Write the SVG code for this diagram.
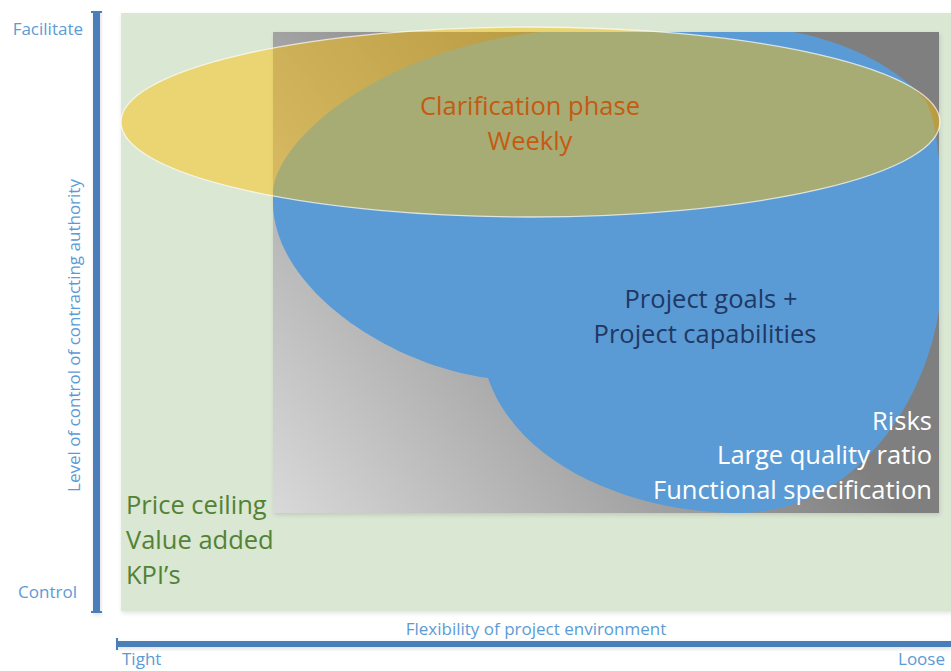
<svg xmlns="http://www.w3.org/2000/svg" width="951" height="671" viewBox="0 0 951 671">
  <defs>
    <style>
      .ax { font-family: "Open Sans", "Noto Sans", sans-serif; font-size: 17px; fill: #5b9bd5; }
      .big { font-family: "Open Sans", "Noto Sans", sans-serif; font-size: 25.5px; }
      .orange { fill: #c55a11; }
      .navy { fill: #1f3864; }
      .white { fill: #ffffff; }
      .green { fill: #548235; }
      .bar { fill: #4a7ebb; }
    </style>
    <linearGradient id="grayGrad" gradientUnits="userSpaceOnUse" x1="273" y1="513" x2="660" y2="205">
      <stop offset="0" stop-color="#d9d9d9"/>
      <stop offset="1" stop-color="#7f7f7f"/>
    </linearGradient>
    <clipPath id="rectClip">
      <rect x="273" y="32" width="666" height="481"/>
    </clipPath>
    <filter id="shadow" x="-5%" y="-5%" width="110%" height="110%">
      <feDropShadow dx="1" dy="2" stdDeviation="2" flood-color="#000" flood-opacity="0.12"/>
    </filter>
  </defs>

  <rect x="0" y="0" width="951" height="671" fill="#ffffff"/>

  <g id="background">
    <rect x="121" y="13" width="840" height="598" fill="#d9e7d3" filter="url(#shadow)"/>
  </g>

  <g id="gray-area">
    <rect x="273" y="32" width="666" height="481" fill="url(#grayGrad)" filter="url(#shadow)"/>
  </g>

  <g id="blue-shape" clip-path="url(#rectClip)">
    <path d="M 540,32 L 793,32 C 850,42 900,70 925,100 C 942,125 944,220 941,290 C 935,390 860,513 740,513 C 640,513 520,470 488,378 C 390,365 276,290 273,205 L 273,195 C 273,140 380,50 540,32 Z" fill="#5b9bd5"/>
  </g>

  <g id="clarification-ellipse">
    <ellipse cx="530.5" cy="122" rx="409.5" ry="95" fill="#ffc000" fill-opacity="0.46" stroke="#ffffff" stroke-opacity="0.7" stroke-width="1.3"/>
    <text class="big orange" x="530" y="115" text-anchor="middle">Clarification phase</text>
    <text class="big orange" x="530" y="150" text-anchor="middle">Weekly</text>
  </g>

  <g id="project-goals">
    <text class="big navy" x="711" y="308" text-anchor="middle">Project goals +</text>
    <text class="big navy" x="705" y="343" text-anchor="middle">Project capabilities</text>
  </g>

  <g id="risks">
    <text class="big white" x="932" y="430" text-anchor="end">Risks</text>
    <text class="big white" x="932" y="464" text-anchor="end">Large quality ratio</text>
    <text class="big white" x="932" y="499" text-anchor="end">Functional specification</text>
  </g>

  <g id="price-ceiling">
    <text class="big green" x="126" y="514">Price ceiling</text>
    <text class="big green" x="126" y="549">Value added</text>
    <text class="big green" x="126" y="584">KPI’s</text>
  </g>

  <g id="connectors">
    <g id="vertical-axis" filter="url(#shadow)">
      <rect class="bar" x="93" y="11" width="7" height="602"/>
      <rect class="bar" x="91" y="11" width="11" height="2"/>
      <rect class="bar" x="91" y="611" width="11" height="2"/>
    </g>
    <g id="horizontal-axis" filter="url(#shadow)">
      <rect class="bar" x="116" y="641" width="835" height="6"/>
      <rect class="bar" x="116" y="638" width="2" height="12"/>
    </g>
  </g>

  <g id="axis-labels">
    <text class="ax" x="83" y="35" text-anchor="end">Facilitate</text>
    <text class="ax" x="77" y="598" text-anchor="end">Control</text>
    <text class="ax" x="80" y="335.5" text-anchor="middle" transform="rotate(-90 80 335.5)">Level of control of contracting authority</text>
    <text class="ax" x="536" y="635" text-anchor="middle">Flexibility of project environment</text>
    <text class="ax" x="122" y="665">Tight</text>
    <text class="ax" x="945" y="665" text-anchor="end">Loose</text>
  </g>
</svg>
